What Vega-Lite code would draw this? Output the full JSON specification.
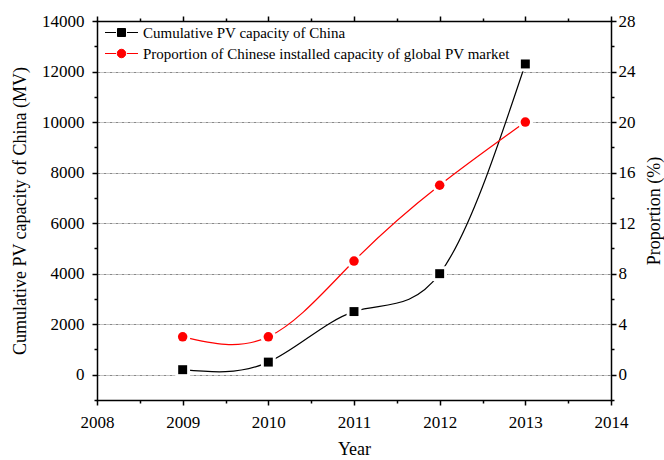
{
  "$schema": "https://vega.github.io/schema/vega-lite/v6.json",
  "width": 514,
  "height": 379,
  "autosize": {"type": "none"},
  "padding": {"left": 97, "top": 21, "right": 53, "bottom": 60},
  "background": "white",
  "data": {"values": [
    {"year": 2009, "capacity": 200, "proportion": 3},
    {"year": 2010, "capacity": 500, "proportion": 3},
    {"year": 2011, "capacity": 2500, "proportion": 9},
    {"year": 2012, "capacity": 4000, "proportion": 15},
    {"year": 2013, "capacity": 12300, "proportion": 20}
  ]},
  "config": {
    "font": "Liberation Serif",
    "view": {"stroke": null},
    "style": {"guide-label": {"font": "Liberation Serif", "fontSize": 17, "fill": "black"}, "guide-title": {"font": "Liberation Serif", "fontSize": 18, "fill": "black"}},
    "axis": {
      "domainColor": "black", "domainWidth": 1.5, "domainCap": "square",
      "tickColor": "black", "tickWidth": 1.5,
      "labelFont": "Liberation Serif", "labelFontSize": 17, "labelColor": "black",
      "titleFont": "Liberation Serif", "titleFontSize": 18, "titleFontWeight": "normal", "titleColor": "black",
      "grid": false, "labelFlush": false, "labelOverlap": false
    }
  },
  "resolve": {"scale": {"y": "independent"}, "axis": {"x": "independent", "y": "independent"}},
  "layer": [
    {
      "encoding": {
        "x": {"field": "year", "type": "quantitative",
              "scale": {"domain": [2008, 2014], "nice": false, "zero": false},
              "axis": {"orient": "bottom", "values": [2008, 2009, 2010, 2011, 2012, 2013, 2014], "format": "d",
                       "labelFont": "Liberation Serif", "labelFontSize": 17, "labelColor": "black",
                       "title": "Year", "tickSize": 5, "labelPadding": 9, "titlePadding": 10}},
        "y": {"field": "capacity", "type": "quantitative",
              "scale": {"domain": [-1000, 14000], "nice": false, "zero": false},
              "axis": {"orient": "left", "values": [0, 2000, 4000, 6000, 8000, 10000, 12000, 14000], "format": "d",
                       "labelFont": "Liberation Serif", "labelFontSize": 17, "labelColor": "black",
                       "title": "Cumulative PV capacity of China (MV)", "tickSize": 5, "labelPadding": 8, "titlePadding": 12,
                       "grid": true, "gridColor": "#888888", "gridDash": [3, 1, 1, 1], "gridWidth": 1}}
      },
      "layer": [
        {"mark": {"type": "line", "interpolate": "natural", "strokeWidth": 1.2},
         "encoding": {"color": {"datum": "Cumulative PV capacity of China", "type": "nominal",
           "scale": {"domain": ["Cumulative PV capacity of China", "Proportion of Chinese installed capacity of global PV market"], "range": ["black", "red"]},
           "legend": {"orient": "none", "legendX": 17, "legendY": 4, "title": null, "padding": 0,
             "symbolSize": 100, "labelOffset": 14, "rowPadding": 5, "labelLimit": 600,
             "labelFont": "Liberation Serif", "labelFontSize": 15, "labelColor": "black",
             "encode": {"symbols": {"update": {
               "shape": {"signal": "datum.value === 'Cumulative PV capacity of China' ? 'M-3.3,0H-1.1M1.1,0H3.3M-0.8,-0.8H0.8V0.8H-0.8Z' : 'M-3.3,0H-1.1M1.1,0H3.3M-0.85,0A0.85,0.85 0 1,1 0.85,0A0.85,0.85 0 1,1 -0.85,0Z'"},
               "fill": {"signal": "datum.value === 'Cumulative PV capacity of China' ? 'black' : 'red'"},
               "stroke": {"signal": "datum.value === 'Cumulative PV capacity of China' ? 'black' : 'red'"},
               "strokeWidth": {"value": 1},
               "opacity": {"value": 1}
             }}}}}}},
        {"mark": {"type": "point", "shape": "square", "filled": true, "color": "white", "size": 220, "opacity": 1}},
        {"mark": {"type": "point", "shape": "square", "filled": true, "size": 80, "opacity": 1},
         "encoding": {"color": {"datum": "Cumulative PV capacity of China", "type": "nominal"}}}
      ]
    },
    {
      "encoding": {
        "x": {"field": "year", "type": "quantitative", "axis": null},
        "y": {"field": "proportion", "type": "quantitative",
              "scale": {"domain": [-2, 28], "nice": false, "zero": false},
              "axis": {"orient": "right", "values": [0, 4, 8, 12, 16, 20, 24, 28], "format": "d",
                       "labelFont": "Liberation Serif", "labelFontSize": 17, "labelColor": "black",
                       "title": "Proportion (%)", "titleAngle": 270, "titleBaseline": "top", "tickSize": 5, "labelPadding": 2, "titlePadding": 10}}
      },
      "layer": [
        {"mark": {"type": "line", "interpolate": "natural", "strokeWidth": 1.2},
         "encoding": {"color": {"datum": "Proportion of Chinese installed capacity of global PV market", "type": "nominal"}}},
        {"mark": {"type": "point", "shape": "circle", "filled": true, "color": "white", "size": 240, "opacity": 1}},
        {"mark": {"type": "point", "shape": "circle", "filled": true, "size": 90, "opacity": 1},
         "encoding": {"color": {"datum": "Proportion of Chinese installed capacity of global PV market", "type": "nominal"}}}
      ]
    },
    {
      "mark": {"type": "point", "opacity": 0},
      "encoding": {
        "x": {"field": "year", "type": "quantitative",
              "axis": {"orient": "top", "values": [2008, 2009, 2010, 2011, 2012, 2013, 2014], "labels": false, "title": null, "tickSize": 5}},
        "y": {"field": "capacity", "type": "quantitative",
              "scale": {"domain": [-1000, 14000], "nice": false, "zero": false},
              "axis": {"orient": "left", "values": [-1000, 1000, 3000, 5000, 7000, 9000, 11000, 13000], "labels": false, "title": null, "domain": false, "tickSize": 3}}
      }
    },
    {
      "mark": {"type": "point", "opacity": 0},
      "encoding": {
        "x": {"field": "year", "type": "quantitative",
              "axis": {"orient": "bottom", "values": [2008.5, 2009.5, 2010.5, 2011.5, 2012.5, 2013.5], "labels": false, "title": null, "domain": false, "tickSize": 3}},
        "y": {"field": "proportion", "type": "quantitative",
              "scale": {"domain": [-2, 28], "nice": false, "zero": false},
              "axis": {"orient": "right", "values": [-2, 2, 6, 10, 14, 18, 22, 26], "labels": false, "title": null, "domain": false, "tickSize": 3}}
      }
    },
    {
      "mark": {"type": "point", "opacity": 0},
      "encoding": {
        "x": {"field": "year", "type": "quantitative",
              "axis": {"orient": "top", "values": [2008.5, 2009.5, 2010.5, 2011.5, 2012.5, 2013.5], "labels": false, "title": null, "domain": false, "tickSize": 3}}
      }
    }
  ]
}
